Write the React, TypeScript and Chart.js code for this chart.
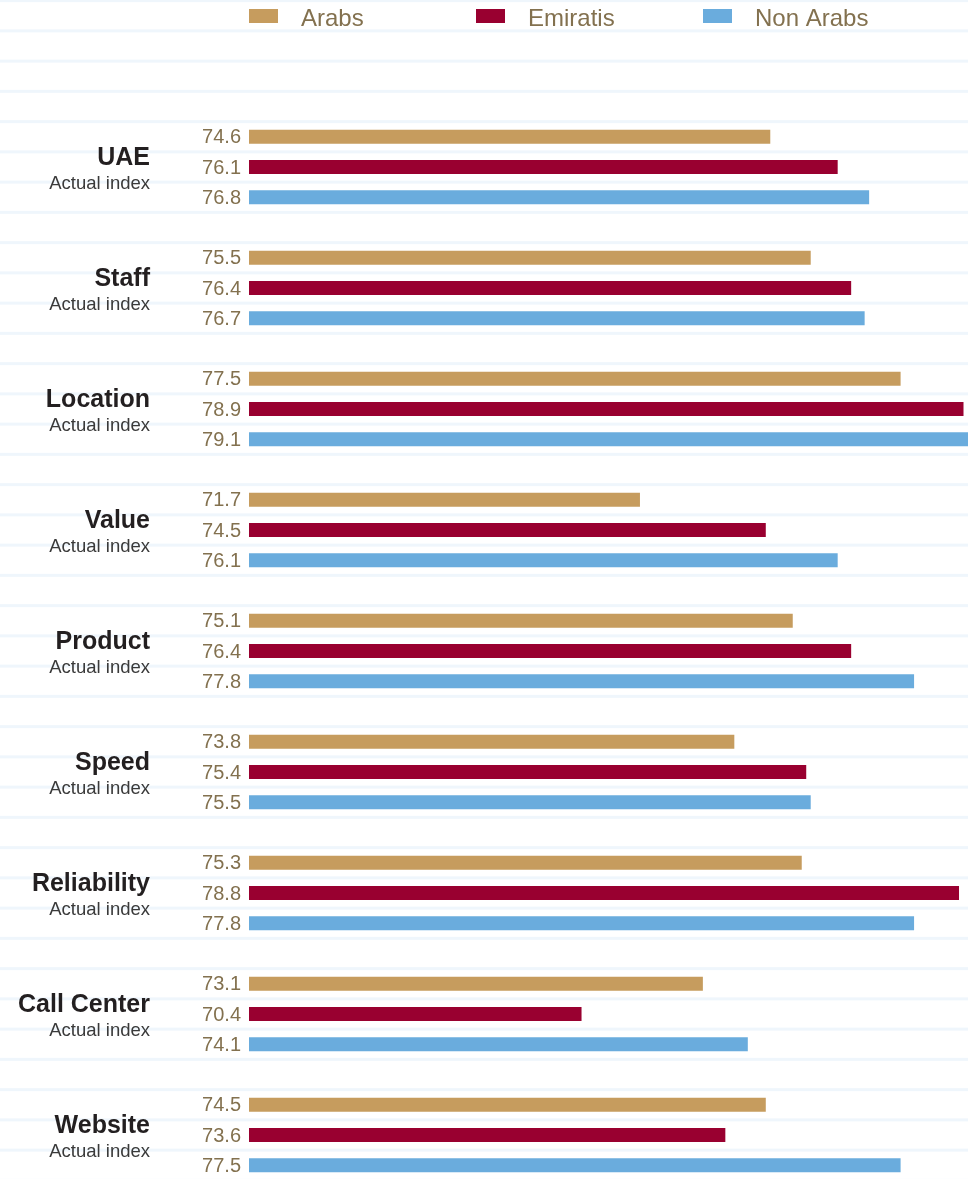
import React, { useEffect, useRef } from "react";
import { Chart, registerables } from "chart.js";

Chart.register(...registerables);

const categories = ["UAE", "Staff", "Location", "Value", "Product", "Speed", "Reliability", "Call Center", "Website"];
const subLabel = "Actual index";
const seriesNames = ["Arabs", "Emiratis", "Non Arabs"];
const arabs = [74.6, 75.5, 77.5, 71.7, 75.1, 73.8, 75.3, 73.1, 74.5];
const emiratis = [76.1, 76.4, 78.9, 74.5, 76.4, 75.4, 78.8, 70.4, 73.6];
const nonArabs = [76.8, 76.7, 79.1, 76.1, 77.8, 75.5, 77.8, 74.1, 77.5];
const seriesColors = ["#C69C5E", "#990030", "#6AACDD"];

const FONT = "'Liberation Sans', Arial, sans-serif";
const LABEL_COLOR = "#83714f";

const stripes = {
  id: "stripes",
  beforeDatasetsDraw(chart: any) {
    const { ctx, scales, width, height } = chart;
    const y = scales.y;
    const c0 = y.getPixelForValue(0);
    const s = (y.getPixelForValue(1) - c0) / 4;
    ctx.save();
    ctx.fillStyle = "#EFF6FC";
    for (let k = -20; k < 60; k++) {
      const py = c0 + (k + 0.5) * s;
      if (py < -5 || py > height + 5) continue;
      ctx.fillRect(0, py - 1.5, width, 3);
    }
    ctx.restore();
  },
};

const labels = {
  id: "labels",
  afterDatasetsDraw(chart: any) {
    const { ctx, scales, chartArea } = chart;
    const y = scales.y;
    ctx.save();
    categories.forEach((name, i) => {
      const py = y.getPixelForValue(i);
      ctx.textAlign = "right";
      ctx.textBaseline = "alphabetic";
      ctx.fillStyle = "#231f20";
      ctx.font = `bold 25px ${FONT}`;
      ctx.fillText(name, 150, py - 2);
      ctx.fillStyle = "#3a3a3a";
      ctx.font = `18.5px ${FONT}`;
      ctx.fillText(subLabel, 150, py + 22);
    });
    ctx.font = `20px ${FONT}`;
    ctx.fillStyle = LABEL_COLOR;
    ctx.textAlign = "right";
    ctx.textBaseline = "middle";
    chart.data.datasets.forEach((ds: any, di: number) => {
      const meta = chart.getDatasetMeta(di);
      meta.data.forEach((el: any, i: number) => {
        ctx.fillText(Number(ds.data[i]).toFixed(1), chartArea.left - 8, el.y + 1);
      });
    });
    const step = 227;
    chart.data.datasets.forEach((ds: any, di: number) => {
      const x0 = chartArea.left + di * step;
      ctx.fillStyle = ds.backgroundColor;
      ctx.fillRect(x0, 9, 29, 14);
      ctx.fillStyle = LABEL_COLOR;
      ctx.font = `24px ${FONT}`;
      ctx.textAlign = "left";
      ctx.textBaseline = "alphabetic";
      ctx.fillText(ds.label, x0 + 52, 26);
    });
    ctx.restore();
  },
};

export default function App() {
  const ref = useRef<HTMLCanvasElement | null>(null);
  useEffect(() => {
    if (!ref.current) return;
    const chart = new Chart(ref.current, {
      type: "bar",
      data: {
        labels: categories,
        datasets: [arabs, emiratis, nonArabs].map((d, i) => ({
          label: seriesNames[i],
          data: d,
          backgroundColor: seriesColors[i],
          borderWidth: 0,
          barPercentage: 14 / 30.25,
          categoryPercentage: 0.75,
        })),
      },
      options: {
        indexAxis: "y",
        responsive: false,
        animation: false,
        layout: { padding: { top: 106.5, bottom: 4.5, left: 249, right: 0 } },
        scales: {
          x: { display: false, min: 63, max: 79 },
          y: { display: false },
        },
        plugins: {
          legend: { display: false },
          tooltip: { enabled: false },
        },
      },
      plugins: [stripes, labels],
    });
    return () => chart.destroy();
  }, []);
  return (
    <div style={{ position: "absolute", top: 0, left: 0, width: 968, height: 1179, overflow: "hidden", background: "#fff" }}>
      <canvas ref={ref} width={968} height={1200} style={{ display: "block", width: 968, height: 1200 }} />
    </div>
  );
}
